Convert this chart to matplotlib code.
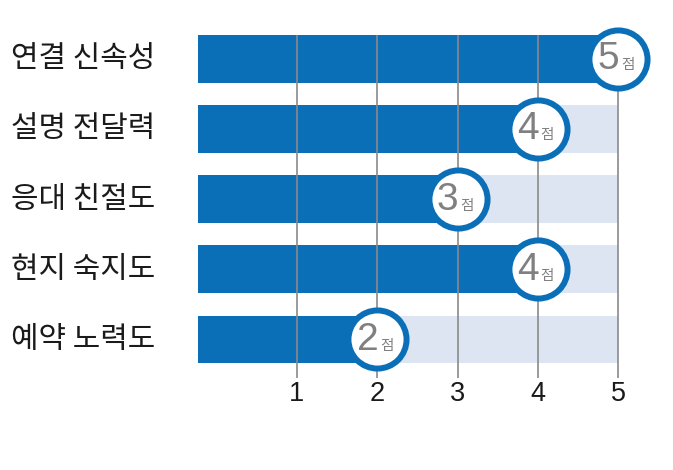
import matplotlib
matplotlib.use('Agg')
import matplotlib.pyplot as plt
from matplotlib.transforms import blended_transform_factory

plt.rcParams['font.family'] = ['Noto Sans CJK KR', 'DejaVu Sans']

categories = ['연결 신속성', '설명 전달력', '응대 친절도', '현지 숙지도', '예약 노력도']
scores = [5, 4, 3, 4, 2]
max_score = 5
ticks = [1, 2, 3, 4, 5]
unit = '점'

dark_blue = '#0B6FB8'
light_blue = '#DEE5F2'
grid_gray = '#8a8a8a'
num_gray = '#808080'

fig = plt.figure(figsize=(6.73, 4.70), dpi=100)
ax = fig.add_axes([198/673, 1 - 378/470, (660 - 198)/673, 343/470])

left = -0.23
ypos = range(len(categories))

# background (max) bars then the score bars
ax.barh(ypos, [max_score - left] * len(categories), left=left, height=0.68,
        color=light_blue, zorder=1)
ax.barh(ypos, [s - left for s in scores], left=left, height=0.68,
        color=dark_blue, zorder=2)

for t in ticks:
    ax.axvline(t, color=grid_gray, lw=1.2, zorder=3)

# score circles
ax.scatter(scores, list(ypos), s=1750, facecolor='white', edgecolor=dark_blue,
           linewidth=4.3, zorder=4, clip_on=False)

for y, s in zip(ypos, scores):
    ax.annotate(str(s), (s, y), xytext=(0.8, -7.5), textcoords='offset points',
                ha='right', va='baseline', fontsize=28, color=num_gray,
                family='Liberation Sans', zorder=5, annotation_clip=False)
    ax.annotate(unit, (s, y), xytext=(2, -7.5), textcoords='offset points',
                ha='left', va='baseline', fontsize=10.5, color=num_gray,
                zorder=5, annotation_clip=False)

# category labels at the left edge of the figure
trans = blended_transform_factory(fig.transFigure, ax.transData)
for y, c in zip(ypos, categories):
    ax.text(11/673, y, c, transform=trans, ha='left', va='center',
            fontsize=21.5, color='#1a1a1a')

ax.set_xlim(left, 5.52)
ax.set_ylim(4.55, -0.34)
ax.set_xticks(ticks)
ax.set_xticklabels([str(t) for t in ticks], family='Liberation Sans', fontsize=19.5,
                   color='#1a1a1a')
ax.tick_params(axis='x', length=0, pad=2)
ax.set_yticks([])
for sp in ax.spines.values():
    sp.set_visible(False)

fig.savefig('out.png', dpi=100)
